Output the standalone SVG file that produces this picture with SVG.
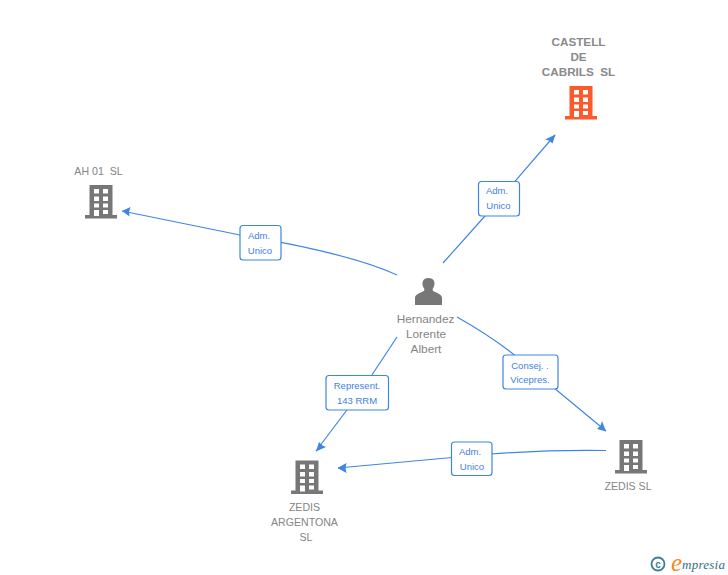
<svg xmlns="http://www.w3.org/2000/svg" width="728" height="575" viewBox="0 0 728 575">
<style>
.c{fill:none;stroke:#3f85e6;stroke-width:1.2}
.h{fill:#3f85e6;stroke:none}
.b{fill:#fff;stroke:#3f85e6;stroke-width:1.2}
.l{font:9.5px "Liberation Sans",Arial,sans-serif;fill:#3f7fe0;text-anchor:middle}
.n{font:11.2px "Liberation Sans",Arial,sans-serif;fill:#848484;text-anchor:middle}
.t{font-weight:bold;font-size:11.7px;fill:#8a8a8a}
.s{font-size:10.6px}
.w{font-size:11.8px}
</style>
<defs>
<path id="bld" fill-rule="evenodd" d="M4.500 0H27.500V30H32V33.500H0V30H4.500ZM9 4V8.500H14V4ZM18 4V8.500H23V4ZM9 11.500V16H14V11.500ZM18 11.500V16H23V11.500ZM9 18.500V22.500H14V18.500ZM18 18.500V22.500H23V18.500ZM9 25V31H14V25ZM18 25V29H23V25Z"/>
</defs>
<g id="connectors">
<path class="c" d="M397 275C360 258 300 245 240 235L122 211"/>
<path class="h" d="M122 211L130.500 207L129 212L129.500 216.500Z"/>
<path class="c" d="M443 263L485 216L555 135"/>
<path class="h" d="M555.500 134.500L552.500 143.500L549 140.500L545 139.500Z"/>
<path class="c" d="M397 337L362 390L316 451"/>
<path class="h" d="M316 451.500L319 442L322.500 445.500L326 447Z"/>
<path class="c" d="M457 317C480 330 510 350 530 368L606 431"/>
<path class="h" d="M606 431.500L597 429L600.500 425.500L602 421Z"/>
<path class="c" d="M606 450.500C570 450 530 451 490 454L338 468"/>
<path class="h" d="M337.500 468L346.500 463L345.500 468L346.500 473Z"/>
</g>
<g id="edge-label-1"><rect class="b" x="240" y="225.500" width="41" height="34.500" rx="3"/><text class="l" x="259" y="239">Adm.</text><text class="l" x="260" y="254">Unico</text></g>
<g id="edge-label-2"><rect class="b" x="478.500" y="181.500" width="41" height="34.500" rx="3"/><text class="l" x="497" y="194">Adm.</text><text class="l" x="498.500" y="209">Unico</text></g>
<g id="edge-label-3"><rect class="b" x="326" y="375.500" width="62.500" height="34.500" rx="3"/><text class="l" x="357" y="389">Represent.</text><text class="l" x="357" y="404">143 RRM</text></g>
<g id="edge-label-4"><rect class="b" x="503" y="355" width="55" height="34" rx="3"/><text class="l" x="530" y="368.500">Consej. .</text><text class="l" x="530" y="383">Vicepres.</text></g>
<g id="edge-label-5"><rect class="b" x="451.500" y="442" width="40.500" height="33.500" rx="3"/><text class="l" x="470" y="455">Adm.</text><text class="l" x="472" y="470">Unico</text></g>
<g id="node-castell">
<text class="n t" x="578.500" y="46">CASTELL</text><text class="n t" x="578.500" y="61">DE</text><text class="n t" x="578.500" y="76" xml:space="preserve">CABRILS  SL</text>
<use href="#bld" x="565" y="86" fill="#fb5a2d"/>
</g>
<g id="node-ah01">
<text class="n s" x="98.500" y="175" xml:space="preserve">AH 01  SL</text>
<use href="#bld" x="85" y="185" fill="#777"/>
</g>
<g id="node-person">
<path fill="#777" d="M415 305V298C415 295 418 293.500 423 291.500C425 290.500 424.500 289 423.500 287.500C421.500 284 422 278 428.500 278C435 278 435.500 284 433.500 287.500C432.500 289 432 290.500 434 291.500C439 293.500 442 295 442 298V305Z"/>
<text class="n w" x="425.500" y="323">Hernandez</text><text class="n w" x="426" y="338">Lorente</text><text class="n w" x="426" y="353">Albert</text>
</g>
<g id="node-zedis-argentona">
<use href="#bld" x="291" y="460.500" fill="#777"/>
<text class="n s" x="304.500" y="511">ZEDIS</text><text class="n s" x="304.500" y="526">ARGENTONA</text><text class="n s" x="306" y="541">SL</text>
</g>
<g id="node-zedis">
<use href="#bld" x="615" y="440" fill="#777"/>
<text class="n s" x="628" y="490">ZEDIS SL</text>
</g>
<g id="logo">
<circle cx="658" cy="564" r="6.500" fill="none" stroke="#3d7f92" stroke-width="1.800"/>
<text x="658" y="567.500" font-family="'Liberation Sans',sans-serif" font-size="10" font-weight="bold" fill="#3d7f92" text-anchor="middle">c</text>
<text x="671" y="571" font-family="'Liberation Serif',serif" font-size="25" font-style="italic" fill="#f08a24">e</text>
<text x="682" y="569" font-family="'Liberation Serif',serif" font-size="13" font-style="italic" fill="#2f6f86" textLength="43">mpresia</text>
</g>
</svg>
